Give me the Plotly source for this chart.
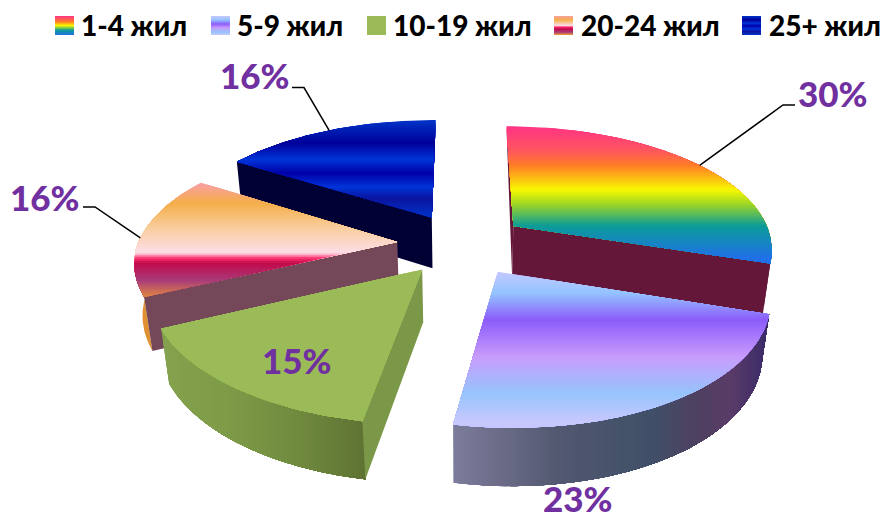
import math
import plotly.graph_objects as go

categories = ["1-4 жил", "5-9 жил", "10-19 жил", "20-24 жил", "25+ жил"]
values = [30, 23, 15, 16, 16]
label_pos = [(833, 93), (578, 498), (297, 360), (45, 197), (255, 75)]
legend_swatch_x = [55, 211, 367, 554, 742]
legend_text_x = [79, 235, 391, 579, 767]

# projection constants for the tilted pie
CX, CY = 462, 244
AX, AY = 252, 121
K, M = 0.16, 0.025
EXPLODE = 0.258
H = 53
SHEAR = -0.026
stretch = [1.03, 1.02, 1.03, 1.03, 1.04]

# vertical gradient stops for each slice's top face: (screen y, colour)
top_grad = [
    [(126, "#FF3385"), (150, "#FF5560"), (165, "#FF7A28"), (190, "#F8F800"), (205, "#98D428"), (226, "#0C9C98"), (258, "#2070E8")],
    [(270, "#C8C8FF"), (293, "#94C4FF"), (320, "#8C5CFA"), (357, "#C89CFC"), (393, "#96C4FC"), (422, "#C8C8FF")],
    [(260, "#9BBB59"), (430, "#9BBB59")],
    [(184, "#F8A0A0"), (203, "#F4AE48"), (228, "#F9CE9E"), (253, "#FDDDE8"), (258, "#FF3070"), (263, "#C20A4A"), (280, "#A83A7A"), (302, "#F0A030"), (310, "#F0A030")],
    [(120, "#0034C8"), (143, "#00009A"), (160, "#0034D8"), (173, "#0000A8"), (187, "#0034D8"), (198, "#0A14A0"), (218, "#0034C8")],
]
legend_grad = [
    [(0, "#FF3385"), (.3, "#FF7A28"), (.5, "#F8F800"), (.75, "#0C9C98"), (1, "#2070E8")],
    [(0, "#C8C8FF"), (.2, "#94C4FF"), (.42, "#8C5CFA"), (.62, "#C89CFC"), (.85, "#96C4FC"), (1, "#C8C8FF")],
    [(0, "#9BBB59"), (1, "#9BBB59")],
    [(0, "#F8A0A0"), (.2, "#F4AE48"), (.5, "#FDDDE8"), (.58, "#FF3070"), (.68, "#C20A4A"), (.85, "#A83A7A"), (1, "#F0A030")],
    [(0, "#0034C8"), (.2, "#00009A"), (.38, "#0034D8"), (.52, "#0000A8"), (.68, "#0034D8"), (.82, "#0A14A0"), (1, "#0034C8")],
]
side2_grad = [(454, "#7C7C9C"), (500, "#6C6C88"), (560, "#525870"), (650, "#405068"), (700, "#4F4060"), (730, "#5A3C68"), (768, "#3A2A6A")]
side3_grad = [(163, "#84A24E"), (230, "#7E9B48"), (300, "#6F8A3E"), (366, "#5F7234")]

MAROON = "#65173A"
GREEN_FACE = "#7B9848"
BROWN = "#744858"
ORANGE = "#E09030"
NAVY = "#000035"


def project(theta_deg, mid_deg, r, z, st=1.0):
    t, m = math.radians(theta_deg), math.radians(mid_deg)
    x = EXPLODE * math.sin(m) + r * st * math.sin(t)
    y = EXPLODE * math.cos(m) + r * math.cos(t)
    w = 1 + K * y + M * z
    return (CX + AX * (x + SHEAR * min(y, 0)) / w, CY - AY * y / w + H * z / w)


def clip(poly, keep, cross):
    out = []
    for i, p in enumerate(poly):
        q = poly[(i + 1) % len(poly)]
        kp, kq = keep(p), keep(q)
        if kp:
            out.append(p)
        if kp != kq:
            out.append(cross(p, q))
    return out


def mix(stops, v):
    v = max(stops[0][0], min(stops[-1][0], v))
    for (a, ca), (b, cb) in zip(stops, stops[1:]):
        if a <= v <= b:
            f = 0 if b == a else (v - a) / (b - a)
            ch = [round(int(ca[i:i + 2], 16) * (1 - f) + int(cb[i:i + 2], 16) * f) for i in (1, 3, 5)]
            return "#%02X%02X%02X" % tuple(ch)
    return stops[-1][1]


fig = go.Figure()


def add_poly(poly, colour):
    if len(poly) < 3:
        return
    xs = [p[0] for p in poly] + [poly[0][0]]
    ys = [p[1] for p in poly] + [poly[0][1]]
    fig.add_trace(go.Scatter(x=xs, y=ys, mode="lines", fill="toself", fillcolor=colour,
                             line=dict(width=0, color=colour), hoverinfo="skip", showlegend=False))


def add_gradient(poly, stops, axis, step=2.0):
    vals = [p[axis] for p in poly]
    lo, hi = min(vals), max(vals)
    v = lo
    while v < hi:
        keep = lambda p, v=v: p[axis] >= v

        def cross(p, q, v=v):
            f = (v - p[axis]) / (q[axis] - p[axis])
            return (p[0] + (q[0] - p[0]) * f, p[1] + (q[1] - p[1]) * f)

        add_poly(clip(poly, keep, cross), mix(stops, v + step / 2))
        v += step


angles = [0]
for val in values:
    angles.append(angles[-1] + val / sum(values) * 360)


def draw_slice(i):
    a0, a1 = angles[i], angles[i + 1]
    mid = (a0 + a1) / 2
    st = stretch[i]
    P = lambda th, r, z: project(th, mid, r, z, st)

    def arc(b0, b1, z, n=60):
        return [P(b0 + (b1 - b0) * k / n, 1, z) for k in range(n + 1)]

    apex0, apex1 = P(0, 0, 0), P(0, 0, 1)
    top = [apex0] + arc(a0, a1, 0)
    if i == 0:
        add_poly([P(a0, 1, 0), apex1, apex0], MAROON)
        add_poly(arc(90, a1, 0) + arc(90, a1, 1)[::-1], MAROON)
        add_poly([P(a1, 1, 0), P(a1, 1, 1), apex1, apex0], MAROON)
    elif i == 1:
        add_gradient(arc(a0, a1, 0) + arc(a0, a1, 1)[::-1], side2_grad, 0)
    elif i == 2:
        add_gradient(arc(a0, a1, 0) + arc(a0, a1, 1)[::-1], side3_grad, 0)
        add_poly([P(a0, 1, 0), P(a0, 1, 1), apex1, apex0], GREEN_FACE)
    elif i == 3:
        add_poly(arc(a0, 272, 0) + arc(a0, 272, 1)[::-1], ORANGE)
        add_poly([P(a0, 1, 0), P(a0, 1, 1), apex1, apex0], BROWN)
    elif i == 4:
        add_poly([P(a0, 1, 0), P(a0, 1, 1), apex1, apex0], NAVY)
    add_gradient(top, top_grad[i], 1)


for i in [4, 3, 0, 2, 1]:
    draw_slice(i)


# leader lines, anchored on the slices' outer arcs
def leader(i, theta, elbow, end):
    a0, a1 = angles[i], angles[i + 1]
    p = project(theta, (a0 + a1) / 2, 1, 0, stretch[i])
    fig.add_trace(go.Scatter(x=[p[0], elbow[0], end[0]], y=[p[1], elbow[1], end[1]], mode="lines",
                             line=dict(color="#000000", width=1.5), hoverinfo="skip", showlegend=False))


leader(0, 55, (783, 105), (795, 105))
leader(3, 272, (95, 207), (83, 207))
leader(4, 331.5, (304, 87.5), (292, 87.5))

# legend swatches
for i, sx in enumerate(legend_swatch_x):
    swatch = [(sx, 16), (sx + 19, 16), (sx + 19, 35), (sx, 35)]
    stops = [(16 + 19 * f, c) for f, c in legend_grad[i]]
    add_gradient(swatch, stops, 1, step=1.0)

annotations = []
for name, tx in zip(categories, legend_text_x):
    annotations.append(dict(x=tx, y=25, text=name, showarrow=False, xanchor="left", yanchor="middle",
                            font=dict(family="Lato, 'Noto Sans', sans-serif", size=28, color="#000000", weight=900)))
for val, (lx, ly) in zip(values, label_pos):
    annotations.append(dict(x=lx, y=ly, text=f"{val}%", showarrow=False, xanchor="center", yanchor="middle",
                            font=dict(family="Lato, 'Noto Sans', sans-serif", size=35, color="#7030A0", weight=900)))

fig.update_layout(
    width=886, height=519, margin=dict(l=0, r=0, t=0, b=0),
    paper_bgcolor="#FFFFFF", plot_bgcolor="#FFFFFF", showlegend=False,
    xaxis=dict(range=[0, 886], visible=False, fixedrange=True),
    yaxis=dict(range=[519, 0], visible=False, fixedrange=True),
    annotations=annotations,
)
fig.write_html("out.html", config={"displayModeBar": False},
               post_script="document.body.style.margin='0';document.body.style.overflow='hidden';")
